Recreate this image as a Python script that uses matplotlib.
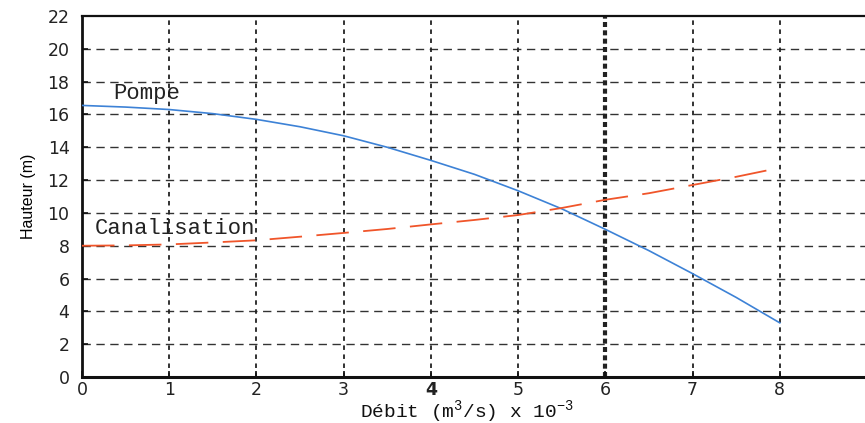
import matplotlib
matplotlib.use("Agg")
import matplotlib.pyplot as plt

# Débit en m3/s x 1e-3
debit = [0, 0.5, 1, 1.5, 2, 2.5, 3, 3.5, 4, 4.5, 5, 5.5, 6, 6.5, 7, 7.5, 8]
# Hauteur manométrique de la pompe (m)
h_pompe = [16.55, 16.45, 16.3, 16.05, 15.7, 15.25, 14.7, 14.0, 13.2,
           12.35, 11.35, 10.25, 9.0, 7.7, 6.3, 4.85, 3.3]
# Caractéristique de la canalisation (m)
h_canal = [8.0, 8.02, 8.08, 8.2, 8.33, 8.55, 8.78, 9.02, 9.3,
           9.57, 9.87, 10.3, 10.8, 11.2, 11.7, 12.2, 12.75]

xticks = [0, 1, 2, 3, 4, 5, 6, 7, 8]
yticks = [0, 2, 4, 6, 8, 10, 12, 14, 16, 18, 20, 22]

plt.rcParams['mathtext.fontset'] = 'custom'
plt.rcParams['mathtext.rm'] = 'Liberation Mono'
plt.rcParams['mathtext.it'] = 'Liberation Mono'
plt.rcParams['mathtext.bf'] = 'Liberation Mono:bold'

fig = plt.figure(figsize=(8.65, 4.23), dpi=100)
ax = fig.add_axes([82 / 865, 46 / 423, (867 - 82) / 865, (377 - 16) / 423])

ax.set_xlim(0, 9)
ax.set_ylim(0, 22)
ax.set_xticks(xticks)
ax.set_yticks(yticks)

# grille : tirets horizontaux, pointillés verticaux
for y in yticks[1:-1]:
    ax.axhline(y, color='#333333', lw=1.0, ls=(0, (6, 4)), zorder=1)
for x in xticks[1:]:
    ax.axvline(x, color='#222222', lw=3.0 if x == 6 else 1.3,
               ls=(0, (2.5, 2.5)) if x != 6 else (0, (1.2, 0.8)), zorder=1)

ax.plot(debit, h_pompe, color='#3d82d6', lw=1.2, zorder=3)
ax.plot(debit, h_canal, color='#f0552a', lw=1.3, ls=(0, (18, 8)), zorder=3)

ax.text(0.36, 17.3, 'Pompe', family='Liberation Mono', fontsize=16,
        va='center', ha='left', color='#222222')
ax.text(0.15, 9.08, 'Canalisation', family='Liberation Mono', fontsize=16,
        va='center', ha='left', color='#222222')

for side, lw in (('left', 2.0), ('bottom', 2.2), ('top', 1.6), ('right', 1.6)):
    ax.spines[side].set_linewidth(lw)
    ax.spines[side].set_color('#111111')

ax.tick_params(direction='in', length=4, width=1.2, colors='#111111',
               labelsize=12.5, top=False, right=False)
ax.tick_params(axis='y', pad=9)
ax.tick_params(axis='x', pad=3)
for lab in ax.get_xticklabels() + ax.get_yticklabels():
    lab.set_family('DejaVu Sans')
    lab.set_color('#222222')
ax.get_xticklabels()[4].set_fontweight('bold')

ax.set_ylabel('Hauteur (m)', family='Liberation Sans', fontsize=11.5,
              labelpad=8)
ax.set_xlabel('Débit (m$^3$/s) x 10$^{-3}$', family='Liberation Mono',
              fontsize=14, color='#111111')
ax.xaxis.label.set_va('baseline')
ax.xaxis.set_label_coords((467 - 82) / 785, (377 - 417) / 361)

fig.savefig('out.png', dpi=100)
